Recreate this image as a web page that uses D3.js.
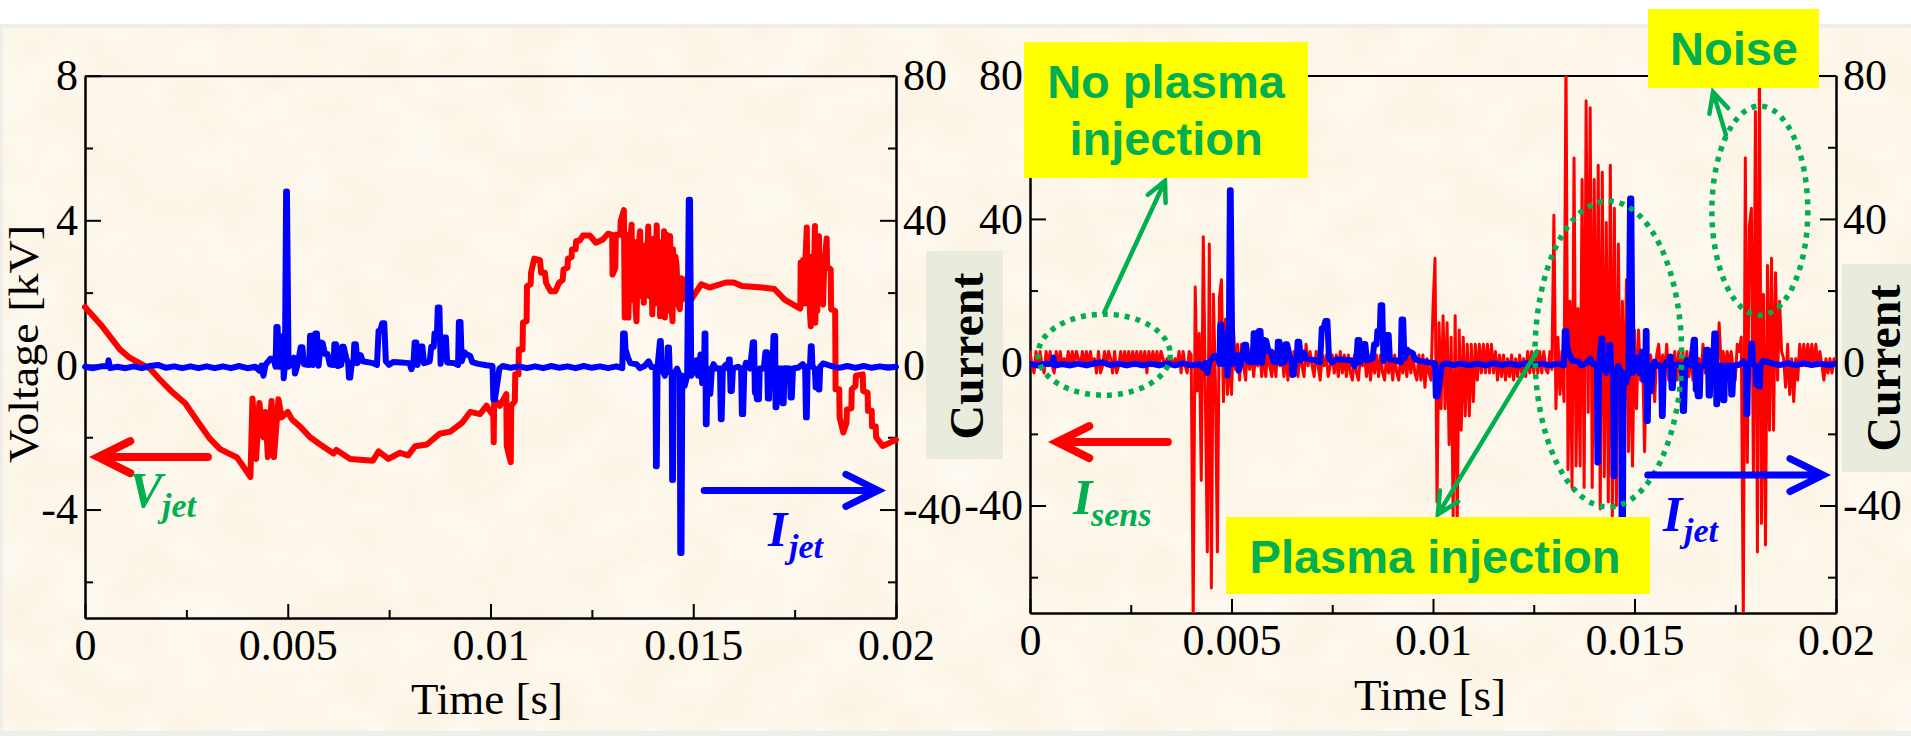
<!DOCTYPE html>
<meta charset="utf-8">
<style>
body { margin: 0; background: #fff; }
svg { display: block; }
.axis text { font-family: "Liberation Serif", serif; font-size: 44px; fill: #000; }
.axis path, .axis line { stroke: #000; stroke-width: 2px; }
.title { font-family: "Liberation Serif", serif; font-size: 45px; fill: #000; }
.current { font-family: "Liberation Serif", serif; font-size: 48px; font-weight: bold; fill: #000; }
.trace { fill: none; stroke-linejoin: round; stroke-linecap: round; }
.box { font-family: "Liberation Sans", sans-serif; font-size: 47px; font-weight: bold; fill: #00b050; text-anchor: middle; }
.sym { font-family: "Liberation Serif", serif; font-weight: bold; font-style: italic; }
</style>
<svg width="1911" height="736"></svg>
<script src="https://d3js.org/d3.v7.min.js"></script>
<script>
// tick labels
var timeTicks = [0, 0.005, 0.01, 0.015, 0.02],
    timeMinor = [0.0025, 0.0075, 0.0125, 0.0175],
    voltTicks = [8, 4, 0, -4],
    voltMinor = [6, 2, -2, -6],
    currTicks = [80, 40, 0, -40],
    currMinor = [60, 20, -20, -60];

// V_jet, [ms, kV]
var vjetPoints = [
  [0,1.6],[0.4,1.1],[0.86,0.43],[1.1,0.2],[1.36,0.04],[1.6,-0.1],[1.85,-0.41],[2.15,-0.75],[2.47,-1.06],[2.8,-1.6],
  [3.08,-2.04],[3.33,-2.33],[3.75,-2.56],[3.9,-2.8],[4.08,-3.1],[4.13,-0.93],[4.22,-2.6],[4.3,-1.05],[4.4,-2],[4.45,-1.3],
  [4.51,-2.55],[4.6,-1],[4.66,-2.55],[4.77,-0.95],[4.85,-1.45],[5,-1.3],[5.1,-1.5],[5.3,-1.7],[5.55,-2],[5.8,-2.2],
  [6.13,-2.45],[6.2,-2.35],[6.54,-2.6],[7.1,-2.65],[7.24,-2.39],[7.48,-2.6],[7.77,-2.43],[7.97,-2.5],[8.14,-2.25],[8.43,-2.2],
  [8.75,-1.9],[9,-1.85],[9.3,-1.6],[9.5,-1.3],[9.74,-1.36],[9.9,-1.13],[10.07,-1.41],[10.08,-2.14],[10.09,-0.95],[10.23,-1.13],
  [10.39,-0.81],[10.4,-2.24],[10.5,-2.69],[10.51,-1.13],[10.6,-1],[10.61,-0.26],[10.69,-0.26],[10.7,0.43],[10.79,0.43],[10.8,1.17],
  [10.89,1.21],[10.9,2.18],[10.99,2.23],[11,2.55],[11.08,2.94],[11.22,2.9],[11.25,2.55],[11.34,2.55],[11.37,2.27],[11.48,2.04],
  [11.6,2.04],[11.69,2.27],[11.78,2.35],[11.8,2.64],[11.9,2.69],[11.91,2.94],[12,2.98],[12.01,3.19],[12.1,3.2],[12.11,3.42],
  [12.2,3.44],[12.28,3.58],[12.45,3.58],[12.6,3.38],[12.77,3.47],[12.9,3.63],[13,3.6],[13.01,2.5],[13.08,2.69],[13.09,3.6],
  [13.2,3.6],[13.21,3.98],[13.29,4.28],[13.31,1.31],[13.35,3.6],[13.4,1.31],[13.44,3.3],[13.48,3.88],[13.5,1.8],[13.54,3.4],
  [13.58,1.5],[13.6,1.21],[13.64,3.2],[13.69,3.7],[13.72,1.9],[13.76,3.1],[13.78,1.72],[13.82,3.3],[13.85,2],[13.89,3.83],
  [13.92,1.9],[13.96,3.4],[13.99,1.4],[14.03,3.5],[14.06,1.7],[14.1,3.86],[14.13,1.7],[14.17,3.4],[14.18,1.35],[14.22,3.2],
  [14.25,1.6],[14.28,3.7],[14.3,1.31],[14.34,3.6],[14.37,1.5],[14.4,3.5],[14.43,3.56],[14.46,1.6],[14.49,1.21],[14.5,3.2],
  [14.54,1.8],[14.56,3],[14.59,2.73],[14.62,1.7],[14.67,1.54],[14.7,2.4],[14.73,1.8],[14.77,2.36],[14.8,1.9],[14.85,2.3],
  [14.9,1.7],[15,1.9],[15.2,2.23],[15.4,2.14],[15.8,2.28],[16,2.28],[16.2,2.18],[16.7,2.14],[17,2.1],[17.26,1.8],
  [17.64,1.56],[17.65,2.83],[17.68,1.7],[17.71,2.9],[17.74,1.7],[17.77,3],[17.8,3.8],[17.82,1.7],[17.85,3],[17.88,1.4],
  [17.9,1.07],[17.93,3],[17.96,1.4],[18,3.84],[18.01,1.17],[18.04,3.2],[18.06,1.5],[18.1,3.56],[18.12,1.7],[18.15,3],
  [18.18,1.7],[18.2,1.67],[18.23,2.73],[18.29,3.5],[18.3,2.73],[18.39,2.64],[18.4,1.54],[18.5,1.49],[18.51,-0.67],[18.6,-0.67],
  [18.61,-1.45],[18.7,-1.87],[18.78,-1.6],[18.79,-1.23],[18.9,-1.2],[18.91,-0.67],[19,-0.58],[19.01,-0.3],[19.18,-0.26],[19.19,-0.72],
  [19.3,-0.77],[19.31,-1.27],[19.4,-1.27],[19.41,-1.7],[19.5,-1.7],[19.51,-2],[19.67,-2.24],[19.85,-2.15],[20,-2.07]
];

// I_jet, [ms, A]
var ijetPoints = [
  [0,-0.5],[0.2,-0.9],[0.4,-0.4],[0.56,-0.4],[0.58,1.3],[0.62,-0.9],[0.8,-0.5],[1,-0.9],[1.2,-0.4],[1.4,-0.9],
  [1.6,-0.3],[1.8,0],[2,-0.8],[2.2,-0.4],[2.4,-0.9],[2.6,-0.4],[2.8,-0.9],[3,-0.4],[3.2,-0.9],[3.4,-0.4],
  [3.6,-0.9],[3.8,-0.3],[4,-0.9],[4.2,-0.5],[4.3,-1.6],[4.35,-0.2],[4.4,-3],[4.45,0],[4.57,1.7],[4.65,1.7],
  [4.7,-0.5],[4.72,10.5],[4.75,10.5],[4.78,-0.5],[4.86,-0.5],[4.88,8],[4.9,-3.7],[4.93,0],[4.96,48],[4.98,48],
  [5.02,-0.5],[5.1,1],[5.15,2],[5.18,-2.4],[5.24,0],[5.32,4.9],[5.36,4.9],[5.4,0.2],[5.53,0],[5.55,8.1],
  [5.59,8.1],[5.62,0],[5.68,8.7],[5.72,8.7],[5.76,-0.2],[5.82,6.2],[5.86,6],[5.92,3],[5.98,3],[6.04,0.1],
  [6.13,0],[6.15,5.7],[6.19,5.7],[6.23,-0.3],[6.32,0],[6.34,5],[6.38,5],[6.44,2],[6.49,0.5],[6.51,-3.5],
  [6.54,-3.5],[6.58,0.5],[6.62,0.5],[6.64,5.7],[6.68,5.7],[6.72,0.5],[6.8,2.7],[6.85,1],[7.1,0.5],[7.2,0],
  [7.24,9.4],[7.28,9.4],[7.33,11.5],[7.38,11.5],[7.42,1],[7.5,0],[7.6,0.8],[7.8,0.7],[8,0.5],[8.05,-1.2],
  [8.1,0.4],[8.13,6.2],[8.17,6.2],[8.2,0],[8.28,5.1],[8.32,5.1],[8.36,0.5],[8.5,1],[8.54,5],[8.6,5],
  [8.62,8.7],[8.68,8.7],[8.7,15.9],[8.74,15.9],[8.77,0.3],[8.85,7.6],[8.9,7.6],[8.93,0.7],[9.1,0.5],[9.2,0],
  [9.22,11.9],[9.26,11.9],[9.29,1],[9.36,3.5],[9.4,3],[9.5,2.5],[9.55,0.8],[9.7,0.3],[9.9,-0.1],[10.05,-0.3],
  [10.07,-9.5],[10.11,-9.5],[10.22,-1],[10.3,-0.3],[10.5,-0.8],[10.7,-0.4],[10.9,-0.9],[11.1,-0.4],[11.3,-0.9],[11.5,-0.3],
  [11.7,-0.8],[11.9,-0.4],[12.1,-0.9],[12.3,-0.3],[12.5,-0.8],[12.7,-0.4],[12.9,-0.9],[13.1,-0.4],[13.25,-0.9],[13.27,8.7],
  [13.31,8.7],[13.33,4.3],[13.39,2],[13.45,0.5],[13.6,0.2],[13.68,-0.9],[13.8,-0.3],[13.9,1],[13.97,-0.6],[14.07,-0.7],
  [14.08,-28],[14.1,-28],[14.12,-0.5],[14.18,6.6],[14.2,6.6],[14.22,-1],[14.3,-3],[14.36,-1],[14.37,4.8],[14.4,4.8],
  [14.42,-2],[14.47,-2],[14.48,-31.8],[14.5,-31.8],[14.52,-3],[14.6,-1],[14.67,-3],[14.68,-52],[14.71,-52],[14.73,-3],
  [14.79,-5.8],[14.85,-3],[14.89,45.7],[14.92,45.7],[14.95,-3],[15,-2],[15.08,1.3],[15.12,-3],[15.18,2.9],[15.22,-5],
  [15.27,0],[15.28,8.7],[15.3,8.7],[15.31,-16.4],[15.33,-16.4],[15.35,-1],[15.38,-8],[15.42,-8],[15.46,-1],[15.5,0.2],
  [15.56,-1],[15.66,-1],[15.68,-15],[15.7,-15],[15.73,-1],[15.8,0],[15.86,-1],[15.88,1.5],[15.9,1.5],[15.92,-7.2],
  [15.95,-7.2],[15.98,-1],[16.1,-0.5],[16.18,-1],[16.2,-13.6],[16.23,-13.6],[16.26,-1],[16.3,0.6],[16.4,-1],[16.47,6.3],
  [16.5,6.3],[16.52,-7.6],[16.55,-7.6],[16.57,-9.5],[16.62,-9.5],[16.64,-1],[16.74,-1],[16.78,3.5],[16.82,3.5],[16.84,-9.3],
  [16.87,-9.3],[16.9,0],[16.95,-1],[16.98,8],[17.02,8],[17.03,-11.7],[17.05,-11.7],[17.08,-1],[17.18,-1],[17.2,-10.6],
  [17.23,-10.6],[17.25,-0.9],[17.38,-1],[17.4,-9],[17.43,-9],[17.46,-1],[17.6,-0.7],[17.7,0.2],[17.76,-1],[17.78,-14.5],
  [17.8,-14.5],[17.82,-0.5],[17.88,0],[17.9,5.2],[17.92,5.2],[17.94,-0.5],[18,-1],[18.02,-6.2],[18.06,-6.2],[18.09,-6.8],
  [18.11,-6.8],[18.13,-0.5],[18.2,0.4],[18.4,-0.3],[18.6,-0.8],[18.8,-0.3],[19,-0.8],[19.2,-0.3],[19.4,-0.8],[19.6,-0.4],
  [19.8,-0.8],[20,-0.5]
];

// I_sens, one row per ms, one sample every 0.05 ms
var isensStep = 0.05;
var isensValues = [
  3,-1,-3,3,-1,3,-1,-3,3,-1,3,-1,-3,3,-1,3,-1,1,-1,3,
  -1,3,-1,3,1,-1,3,-1,3,-1,3,-1,1,-3,3,-3,-1,3,-1,3,
  1,-3,3,-3,-1,3,-1,3,-1,3,-1,3,-1,3,-1,3,-1,3,-3,3,
  -1,3,-1,3,-1,3,1,-1,1,-1,1,-1,1,-1,3,-3,3,-1,-3,3,
  2,-72,21,-8,8,-33,35,-8,-53,33,-63,19,-5,-53,18,23,-11,12,-9,2,
  -9,9,-2,5,-5,5,-1,-5,5,-2,4,-4,3,-1,3,-4,3,-4,3,-1,
  -4,3,-4,5,-1,3,-4,3,-5,3,-4,3,-1,-4,3,-1,-4,5,-1,3,
  -1,-4,3,-1,-5,2,-1,2,-4,-1,2,-3,2,-4,3,-3,2,-4,2,-3,
  -5,2,-3,-5,2,-1,2,-4,2,-5,2,-3,2,-4,2,-3,-5,2,-3,2,
  -5,2,-3,-5,2,-3,2,-4,3,-3,2,-3,-5,2,-5,2,-7,1,-3,-5,
  15,29,-39,11,-13,13,-13,11,-23,7,-43,13,-46,9,-19,7,-15,5,-15,5,
  -11,5,-5,5,-3,5,-3,5,-3,5,-3,3,-5,2,-4,2,-5,1,-4,2,
  -5,1,-4,2,-3,1,-4,3,-3,3,-3,3,-3,3,-3,3,-2,-3,3,-2,
  41,-13,7,-9,3,-11,85,-30,17,-35,57,-29,15,-29,51,-35,73,-14,71,-35,
  51,-24,55,-41,53,-32,39,-39,55,-43,43,-40,33,-23,17,-16,23,-25,9,-29,
  9,-13,9,-5,2,-25,2,-4,2,-4,-11,2,5,-4,2,-3,5,-5,2,-3,
  3,-5,3,-4,3,-5,3,-4,3,-5,3,-3,1,-4,5,-3,3,-4,3,-3,
  3,-3,11,-1,3,-2,3,-1,3,-2,-5,5,3,7,-72,57,-28,38,43,-32,
  70,-53,85,-45,19,-51,27,-19,29,-19,25,-5,17,3,1,-7,5,-9,1,-11,
  1,-5,5,-1,5,-1,5,-1,5,-1,5,-1,3,-1,-5,1,-3,1,-3,1,
  1
];

// annotations, in the units of each panel: [ms, value]
var vjetArrow = [[3.03,-2.55],[0.32,-2.55]],
    ijetArrowL = [[15.27,-3.47],[19.56,-3.47]],
    isensArrow = [[3.42,-22.3],[0.67,-22.3]],
    ijetArrowR = [[15.33,-31.5],[19.68,-31.5]],
    noPlasmaArrow = [[1.84,13.9],[3.35,50.6]],
    plasmaArrow = [[12.58,3],[10.12,-42.5]],
    noiseArrow = [[17.27,63.4],[16.95,75.4]];

// [center ms, center value, radius ms, radius value]
var noPlasmaRing = [1.84,2.1,1.64,11.3],
    plasmaRing = [14.35,2.3,1.82,42.7],
    noiseRing = [18.11,42.3,1.19,29.2];

var svg = d3.select("svg");

// parchment background
var filter = svg.append("defs").append("filter")
    .attr("id", "parchment")
    .attr("x", 0).attr("y", 0).attr("width", 1).attr("height", 1);
filter.append("feTurbulence")
    .attr("type", "fractalNoise")
    .attr("baseFrequency", "0.018 0.022")
    .attr("numOctaves", 3)
    .attr("seed", 7);
filter.append("feColorMatrix")
    .attr("values", "0.05 0 0 0 0.955  0.08 0 0 0 0.885  0.16 0 0 0 0.745  0 0 0 0 1");

svg.append("rect").attr("x", 0).attr("y", 24).attr("width", 1911).attr("height", 712).attr("fill", "#eeeeea");
svg.append("rect").attr("x", 3).attr("y", 28).attr("width", 1908).attr("height", 703)
    .attr("filter", "url(#parchment)");

svg.select("defs").append("clipPath").attr("id", "clip-right").append("rect")
    .attr("x", 1030).attr("y", 75.6).attr("width", 806).attr("height", 537.4);

// left panel scales
var xL = d3.scaleLinear().domain([0, 0.02]).range([85, 896]),
    yV = d3.scaleLinear().domain([-7, 8]).range([618, 75.7]),
    yIL = d3.scaleLinear().domain([-70, 80]).range([618, 75.7]);

// right panel scales
var xR = d3.scaleLinear().domain([0, 0.02]).range([1030, 1836]),
    yR = d3.scaleLinear().domain([-70, 80]).range([613, 75.6]);

var fmt = function(d) { return String(d); };

function drawAxes(x, yLeft, yRight, leftTicks, leftMinor, xLeftPos, xRightPos) {
  var top = yRight.range()[1], bottom = yRight.range()[0];

  svg.append("g").attr("class", "axis").attr("transform", "translate(0," + bottom + ")")
      .call(d3.axisBottom(x).tickValues(timeTicks).tickFormat(fmt).tickSizeInner(-14).tickSizeOuter(0).tickPadding(11));
  svg.append("g").attr("class", "axis").attr("transform", "translate(0," + bottom + ")")
      .call(d3.axisBottom(x).tickValues(timeMinor).tickFormat("").tickSizeInner(-8).tickSizeOuter(0));
  svg.append("g").attr("class", "axis").attr("transform", "translate(0," + top + ")")
      .call(d3.axisTop(x).tickValues([]).tickSizeOuter(0));

  svg.append("g").attr("class", "axis").attr("transform", "translate(" + xLeftPos + ",0)")
      .call(d3.axisLeft(yLeft).tickValues(leftTicks).tickFormat(fmt).tickSizeInner(-16).tickSizeOuter(0).tickPadding(7));
  svg.append("g").attr("class", "axis").attr("transform", "translate(" + xLeftPos + ",0)")
      .call(d3.axisLeft(yLeft).tickValues(leftMinor).tickFormat("").tickSizeInner(-8).tickSizeOuter(0));

  svg.append("g").attr("class", "axis").attr("transform", "translate(" + xRightPos + ",0)")
      .call(d3.axisRight(yRight).tickValues(currTicks).tickFormat(fmt).tickSizeInner(-16).tickSizeOuter(0).tickPadding(7));
  svg.append("g").attr("class", "axis").attr("transform", "translate(" + xRightPos + ",0)")
      .call(d3.axisRight(yRight).tickValues(currMinor).tickFormat("").tickSizeInner(-8).tickSizeOuter(0));
}

function trace(x, y, points, color, width, clip) {
  var line = d3.line()
      .x(function(d) { return x(d[0] / 1000); })
      .y(function(d) { return y(d[1]); });
  var p = svg.append("path")
      .datum(points)
      .attr("class", "trace")
      .attr("stroke", color)
      .attr("stroke-width", width)
      .attr("d", line);
  if (clip) p.attr("clip-path", "url(#" + clip + ")");
}

function arrow(x, y, ends, color, width, head) {
  var x0 = x(ends[0][0] / 1000), y0 = y(ends[0][1]),
      x1 = x(ends[1][0] / 1000), y1 = y(ends[1][1]),
      a = Math.atan2(y0 - y1, x0 - x1),
      spread = 0.46;
  var d = d3.path();
  d.moveTo(x0, y0);
  d.lineTo(x1, y1);
  d.moveTo(x1 + head * Math.cos(a + spread), y1 + head * Math.sin(a + spread));
  d.lineTo(x1, y1);
  d.lineTo(x1 + head * Math.cos(a - spread), y1 + head * Math.sin(a - spread));
  svg.append("path").attr("d", d.toString())
      .attr("fill", "none").attr("stroke", color).attr("stroke-width", width)
      .attr("stroke-linecap", "round").attr("stroke-linejoin", "miter");
}

function ring(x, y, r) {
  svg.append("ellipse")
      .attr("cx", x(r[0] / 1000)).attr("cy", y(r[1]))
      .attr("rx", x((r[0] + r[2]) / 1000) - x(r[0] / 1000))
      .attr("ry", y(r[1]) - y(r[1] + r[3]))
      .attr("fill", "none").attr("stroke", "#00b050").attr("stroke-width", 5.5)
      .attr("stroke-dasharray", "5 6");
}

function symbol(px, py, main, sub, subX, subY, color) {
  var t = svg.append("text").attr("class", "sym").attr("fill", color);
  t.append("tspan").attr("x", px).attr("y", py).attr("font-size", 50).text(main);
  t.append("tspan").attr("x", subX).attr("y", subY).attr("font-size", 34).text(sub);
}

function yellowBox(x0, y0, x1, y1) {
  svg.append("rect").attr("x", x0).attr("y", y0).attr("width", x1 - x0).attr("height", y1 - y0).attr("fill", "#ffff00");
}

// grey-green patches behind the "Current" labels
svg.append("rect").attr("x", 926).attr("y", 251).attr("width", 77).attr("height", 208).attr("fill", "#e9ecdc");
svg.append("rect").attr("x", 1842).attr("y", 264).attr("width", 69).attr("height", 208).attr("fill", "#e9ecdc");

drawAxes(xL, yV, yIL, voltTicks, voltMinor, 85, 896);
drawAxes(xR, yR, yR, currTicks, currMinor, 1030, 1836);

// left panel
trace(xL, yV, vjetPoints, "#ff0000", 6);
trace(xL, yIL, ijetPoints, "#0000ff", 6);

// right panel
var isensPoints = isensValues.map(function(v, i) { return [i * isensStep, v]; });
trace(xR, yR, isensPoints, "#ff0000", 3, "clip-right");
trace(xR, yR, ijetPoints, "#0000ff", 6, "clip-right");

ring(xR, yR, noPlasmaRing);
ring(xR, yR, plasmaRing);
ring(xR, yR, noiseRing);

arrow(xL, yV, vjetArrow, "#ff0000", 8, 36);
arrow(xL, yV, ijetArrowL, "#0000ff", 7, 36);
arrow(xR, yR, isensArrow, "#ff0000", 8, 36);
arrow(xR, yR, ijetArrowR, "#0000ff", 7, 37);
arrow(xR, yR, noPlasmaArrow, "#00b050", 4.5, 22);
arrow(xR, yR, plasmaArrow, "#00b050", 4.5, 24);
arrow(xR, yR, noiseArrow, "#00b050", 4.5, 22);

// axis titles
svg.append("text").attr("class", "title").attr("text-anchor", "middle").attr("x", 487).attr("y", 714).text("Time [s]");
svg.append("text").attr("class", "title").attr("text-anchor", "middle").attr("x", 1430).attr("y", 710).text("Time [s]");
svg.append("text").attr("class", "title").attr("text-anchor", "middle")
    .attr("font-size", 42).style("font-size", "42px")
    .attr("textLength", 238).attr("lengthAdjust", "spacingAndGlyphs")
    .attr("transform", "translate(37.5,344) rotate(-90)").text("Voltage [kV]");
svg.append("text").attr("class", "current").attr("text-anchor", "middle")
    .attr("transform", "translate(983,356) rotate(-90)").text("Current");
svg.append("text").attr("class", "current").attr("text-anchor", "middle")
    .attr("transform", "translate(1900,368) rotate(-90)").text("Current");

symbol(129, 507, "V", "jet", 162, 517, "#00b050");
symbol(768, 546, "I", "jet", 789, 558, "#0000ff");
symbol(1073, 514, "I", "sens", 1091, 526, "#00b050");
symbol(1663, 531, "I", "jet", 1684, 542, "#0000ff");

// callouts sit on top of everything
yellowBox(1024, 42, 1308, 178);
yellowBox(1648, 9, 1819, 88);
yellowBox(1226, 517, 1650, 594);
svg.append("text").attr("class", "box").attr("x", 1166).attr("y", 98).text("No plasma");
svg.append("text").attr("class", "box").attr("x", 1166).attr("y", 155).text("injection");
svg.append("text").attr("class", "box").attr("x", 1734).attr("y", 65).text("Noise");
svg.append("text").attr("class", "box").attr("x", 1435).attr("y", 573).text("Plasma injection");
</script>
